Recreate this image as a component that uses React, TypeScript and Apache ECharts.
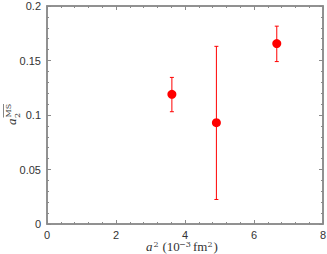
import React, { useEffect, useRef } from "react";
import * as echarts from "echarts";

const xValues = [3.62, 4.91, 6.66];
const yValues = [0.119, 0.093, 0.1655];
const yLow = [0.103, 0.0225, 0.149];
const yHigh = [0.1345, 0.163, 0.1815];
const xTicks = [0, 2, 4, 6, 8];
const yTicks = [0, 0.05, 0.1, 0.15, 0.2];

const RED = "#ff0000";
const AXIS = "#8a8a8a";
const TXT = "#333";

export default function App() {
  const ref = useRef<HTMLDivElement>(null);
  useEffect(() => {
    if (!ref.current) return;
    const chart = echarts.init(ref.current, null, { renderer: "svg" });
    const axisCommon = {
      type: "value",
      axisLine: { show: true, onZero: false, lineStyle: { color: AXIS, width: 1.5 } },
      axisTick: { show: true, inside: true, length: 4, lineStyle: { color: AXIS, width: 1 } },
      minorTick: { show: true, splitNumber: 5, length: 2, lineStyle: { color: AXIS, width: 1 } },
      splitLine: { show: false },
      minorSplitLine: { show: false },
    };
    const labelStyle = {
      color: TXT,
      fontSize: 11,
      fontFamily: "Liberation Sans, Arial, sans-serif",
    };
    const serif = "Liberation Serif, serif";
    const sup = "DejaVu Serif, serif";
    chart.setOption({
      animation: false,
      grid: {
        left: 47,
        right: 4,
        top: 6,
        bottom: 30,
        containLabel: false,
        outerBoundsMode: "none",
        show: true,
        borderColor: AXIS,
        borderWidth: 1.5,
        backgroundColor: "transparent",
      },
      xAxis: [
        {
          ...axisCommon,
          min: xTicks[0],
          max: xTicks[xTicks.length - 1],
          interval: 2,
          position: "bottom",
          axisLabel: { ...labelStyle, margin: 5, formatter: (v: number) => String(v) },
        },
        {
          ...axisCommon,
          min: xTicks[0],
          max: xTicks[xTicks.length - 1],
          interval: 2,
          position: "top",
          axisLabel: { show: false },
        },
      ],
      yAxis: [
        {
          ...axisCommon,
          min: yTicks[0],
          max: yTicks[yTicks.length - 1],
          interval: 0.05,
          position: "left",
          axisLabel: { ...labelStyle, margin: 6, formatter: (v: number) => String(v) },
        },
        {
          ...axisCommon,
          min: yTicks[0],
          max: yTicks[yTicks.length - 1],
          interval: 0.05,
          position: "right",
          axisLabel: { show: false },
        },
      ],
      series: [
        {
          type: "custom",
          xAxisIndex: 0,
          yAxisIndex: 0,
          data: xValues.map((x, i) => [x, yLow[i], yHigh[i]]),
          renderItem: (params: any, api: any) => {
            const x = api.value(0);
            const lo = api.coord([x, api.value(1)]);
            const hi = api.coord([x, api.value(2)]);
            const cap = 2;
            const style = { stroke: RED, lineWidth: 1 };
            return {
              type: "group",
              children: [
                { type: "line", shape: { x1: lo[0], y1: lo[1], x2: hi[0], y2: hi[1] }, style },
                { type: "line", shape: { x1: lo[0] - cap, y1: lo[1], x2: lo[0] + cap, y2: lo[1] }, style },
                { type: "line", shape: { x1: hi[0] - cap, y1: hi[1], x2: hi[0] + cap, y2: hi[1] }, style },
              ],
            };
          },
          z: 2,
        },
        {
          type: "scatter",
          xAxisIndex: 0,
          yAxisIndex: 0,
          data: xValues.map((x, i) => [x, yValues[i]]),
          symbol: "circle",
          symbolSize: 9,
          itemStyle: { color: RED, opacity: 1 },
          z: 3,
        },
      ],
      graphic: [
        {
          type: "group",
          x: 146,
          y: 253,
          children: [
            {
              type: "text",
              x: 0,
              y: 0,
              style: { text: "a", fill: TXT, fontStyle: "italic", fontFamily: serif, fontSize: 13, verticalAlign: "bottom" },
            },
            {
              type: "text",
              x: 7.5,
              y: -5,
              style: { text: "2", fill: TXT, fontFamily: sup, fontSize: 8, verticalAlign: "bottom" },
            },
            {
              type: "text",
              x: 16.5,
              y: 0,
              style: { text: "(10", fill: TXT, fontFamily: serif, fontSize: 13, verticalAlign: "bottom" },
            },
            {
              type: "text",
              x: 33,
              y: -5,
              style: { text: "−3", fill: TXT, fontFamily: sup, fontSize: 8, verticalAlign: "bottom" },
            },
            {
              type: "text",
              x: 47,
              y: 0,
              style: { text: "fm", fill: TXT, fontFamily: serif, fontSize: 13, verticalAlign: "bottom" },
            },
            {
              type: "text",
              x: 61.5,
              y: -5,
              style: { text: "2", fill: TXT, fontFamily: sup, fontSize: 8, verticalAlign: "bottom" },
            },
            {
              type: "text",
              x: 67.5,
              y: 0,
              style: { text: ")", fill: TXT, fontFamily: serif, fontSize: 13, verticalAlign: "bottom" },
            },
          ],
        },
        {
          type: "group",
          x: 18,
          y: 125,
          rotation: Math.PI / 2,
          children: [
            {
              type: "text",
              x: 0,
              y: 0,
              style: { text: "a", fill: TXT, fontStyle: "italic", fontFamily: serif, fontSize: 13, verticalAlign: "bottom" },
            },
            {
              type: "text",
              x: 7,
              y: 3.5,
              style: { text: "2", fill: TXT, fontFamily: sup, fontSize: 8, verticalAlign: "bottom" },
            },
            {
              type: "text",
              x: 7.5,
              y: -6,
              style: { text: "MS", fill: TXT, fontFamily: sup, fontSize: 8, verticalAlign: "bottom" },
            },
            {
              type: "line",
              shape: { x1: 7.5, y1: -14.5, x2: 21, y2: -14.5 },
              style: { stroke: TXT, lineWidth: 0.6 },
            },
          ],
        },
      ],
    });
    return () => chart.dispose();
  }, []);
  return (
    <div
      ref={ref}
      style={{ position: "absolute", left: 0, top: 0, width: 327, height: 254 }}
    />
  );
}
